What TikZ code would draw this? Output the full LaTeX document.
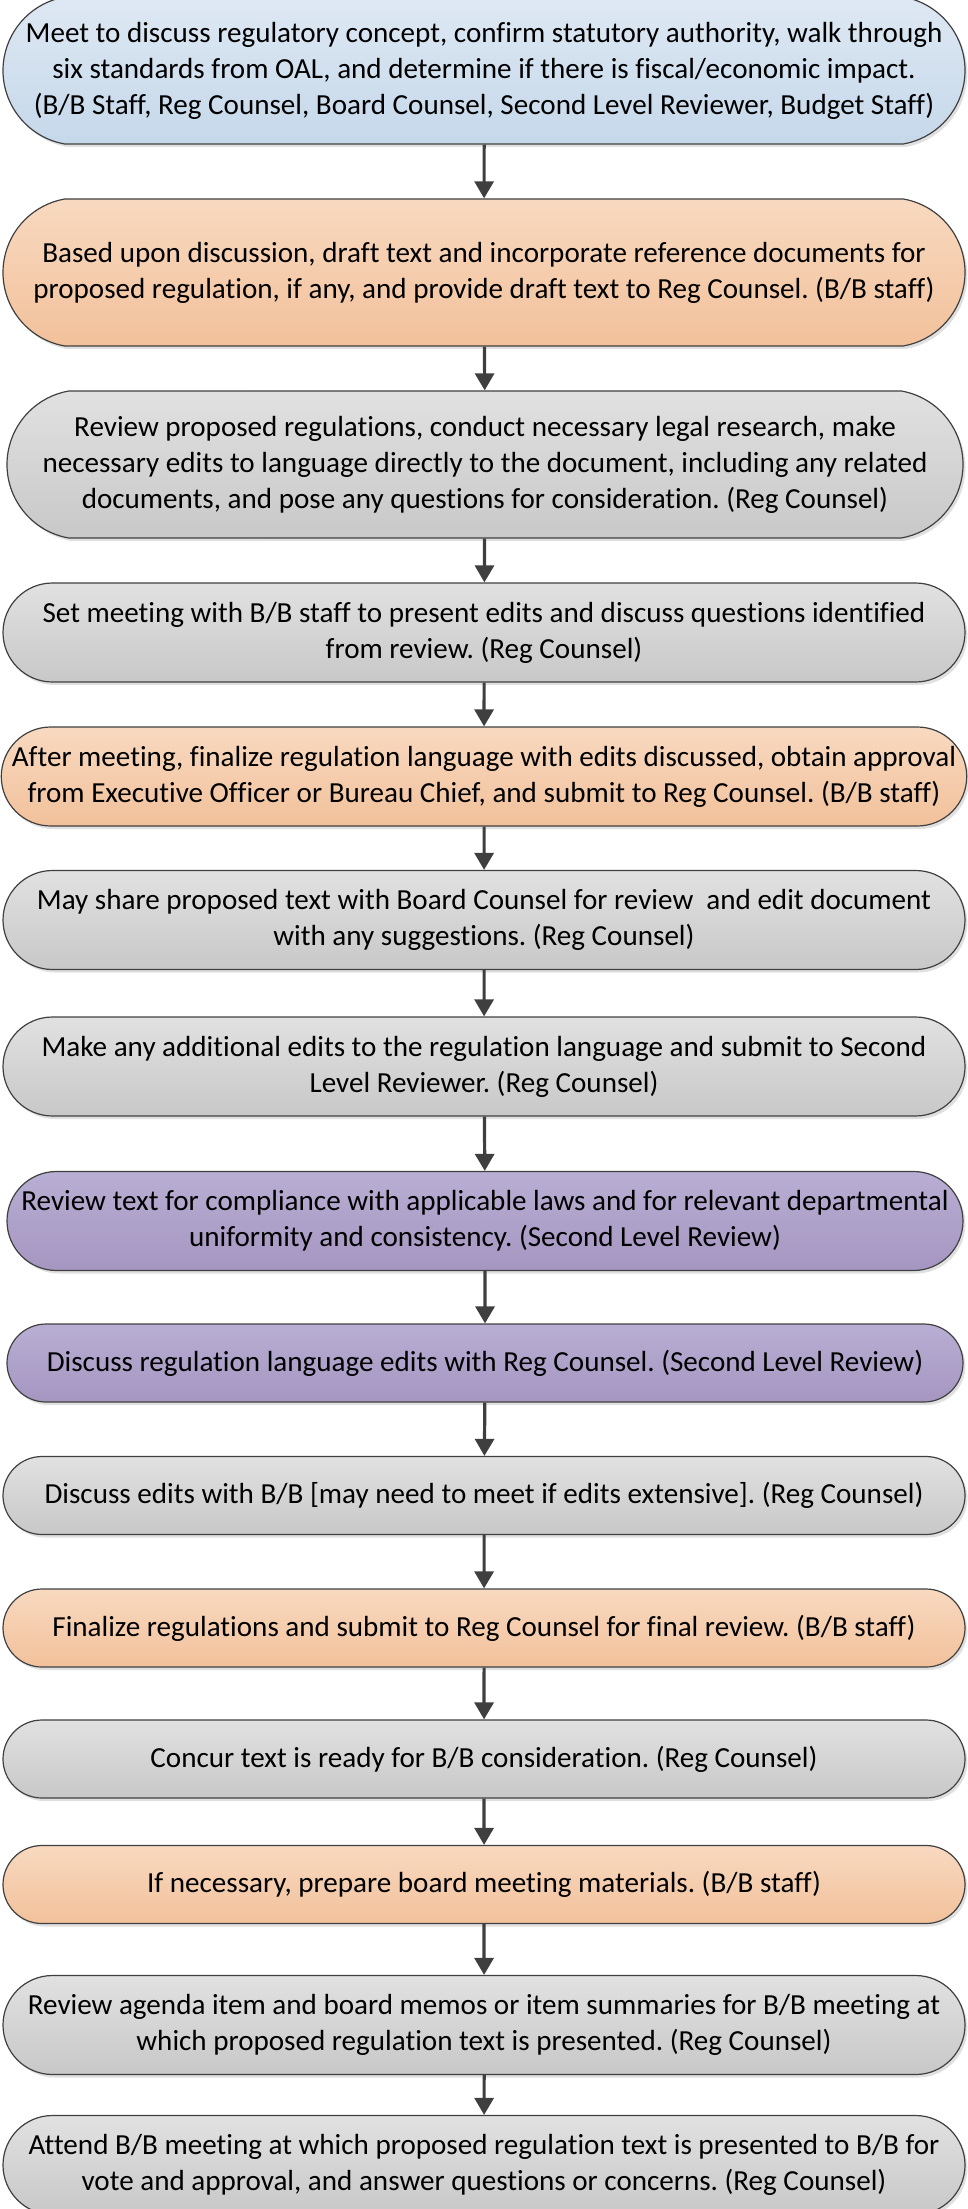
\documentclass[tikz,border=0pt]{standalone}
\usepackage{fontspec}
\setmainfont{Carlito}[Ligatures=NoCommon]
\usetikzlibrary{shapes.misc, arrows.meta, shadows}
\frenchspacing
\definecolor{edgeGray}{HTML}{404040}
\definecolor{arrowGray}{HTML}{3F3F3F}
\definecolor{blueTop}{HTML}{DEE8F3}
\definecolor{blueBot}{HTML}{C5D8EA}
\definecolor{orangeTop}{HTML}{F8D9C0}
\definecolor{orangeBot}{HTML}{F2C19B}
\definecolor{grayTop}{HTML}{E1E1E1}
\definecolor{grayBot}{HTML}{C8C8C8}
\definecolor{purpleTop}{HTML}{B9AED3}
\definecolor{purpleBot}{HTML}{A596C1}
\tikzstyle{terminal} = [rounded rectangle, minimum width=481pt, minimum height=49.5pt, inner sep=0pt, text centered, align=center, draw=edgeGray, line width=0.6pt, font=\fontsize{14.55}{18}\selectfont, drop shadow={shadow xshift=1.2pt, shadow yshift=-1.5pt, fill=black!30, opacity=0.4}]
\tikzstyle{tall} = [minimum height=73.5pt, rounded rectangle arc length=160]
\tikzstyle{flat} = [minimum height=39pt]
\tikzstyle{joint} = [top color=blueTop, bottom color=blueBot]
\tikzstyle{staff} = [top color=orangeTop, bottom color=orangeBot]
\tikzstyle{counsel} = [top color=grayTop, bottom color=grayBot]
\tikzstyle{review} = [top color=purpleTop, bottom color=purpleBot]
\tikzstyle{arrow} = [line width=1.6pt, draw=arrowGray, -{Triangle[width=9.5pt,length=8.5pt]}]

\begin{document}
\begin{tikzpicture}[x=0.5pt, y=-0.5pt]
\useasboundingbox (0,0) rectangle (968,2209);

% Nodes
\node (meetConcept) [terminal, tall, joint] at (484,70.5) {Meet to discuss regulatory concept, confirm statutory authority, walk through\\ six standards from OAL, and determine if there is fiscal/economic impact.\\ (B/B Staff, Reg Counsel, Board Counsel, Second Level Reviewer, Budget Staff)};
\node (draftText) [terminal, tall, staff] at (484,272.5) {Based upon discussion, draft text and incorporate reference documents for\\ proposed regulation, if any, and provide draft text to Reg Counsel. (B/B staff)};
\node (reviewRegs) [terminal, tall, counsel, minimum width=478pt] at (485,464.5) {Review proposed regulations, conduct necessary legal research, make\\ necessary edits to language directly to the document, including any related\\ documents, and pose any questions for consideration. (Reg Counsel)};
\node (setMeeting) [terminal, counsel] at (484,632.5) {Set meeting with B/B staff to present edits and discuss questions identified\\ from review. (Reg Counsel)};
\node (finalizeLang) [terminal, staff] at (484,776.5) {After meeting, finalize regulation language with edits discussed, obtain approval\\ from Executive Officer or Bureau Chief, and submit to Reg Counsel. (B/B staff)};
\node (shareCounsel) [terminal, counsel] at (484,920) {May share proposed text with Board Counsel for review\ \ and edit document\\ with any suggestions. (Reg Counsel)};
\node (addEdits) [terminal, counsel] at (484,1066.5) {Make any additional edits to the regulation language and submit to Second\\ Level Reviewer. (Reg Counsel)};
\node (reviewCompliance) [terminal, review, minimum width=478pt] at (485,1221) {Review text for compliance with applicable laws and for relevant departmental\\ uniformity and consistency. (Second Level Review)};
\node (discussEdits) [terminal, flat, review, minimum width=478pt] at (485,1363) {Discuss regulation language edits with Reg Counsel. (Second Level Review)};
\node (discussBB) [terminal, flat, counsel] at (484,1495.5) {Discuss edits with B/B [may need to meet if edits extensive]. (Reg Counsel)};
\node (finalizeRegs) [terminal, flat, staff] at (484,1628) {Finalize regulations and submit to Reg Counsel for final review. (B/B staff)};
\node (concurText) [terminal, flat, counsel] at (484,1759) {Concur text is ready for B/B consideration. (Reg Counsel)};
\node (prepMaterials) [terminal, flat, staff] at (484,1884.5) {If necessary, prepare board meeting materials. (B/B staff)};
\node (reviewAgenda) [terminal, counsel] at (484,2025) {Review agenda item and board memos or item summaries for B/B meeting at\\ which proposed regulation text is presented. (Reg Counsel)};
\node (attendMeeting) [terminal, counsel] at (484,2165) {Attend B/B meeting at which proposed regulation text is presented to B/B for\\ vote and approval, and answer questions or concerns. (Reg Counsel)};

% Arrows
\draw [arrow] (meetConcept) -- (draftText);
\draw [arrow] (draftText) -- (reviewRegs);
\draw [arrow] (reviewRegs) -- (setMeeting);
\draw [arrow] (setMeeting) -- (finalizeLang);
\draw [arrow] (finalizeLang) -- (shareCounsel);
\draw [arrow] (shareCounsel) -- (addEdits);
\draw [arrow] (addEdits) -- (reviewCompliance);
\draw [arrow] (reviewCompliance) -- (discussEdits);
\draw [arrow] (discussEdits) -- (discussBB);
\draw [arrow] (discussBB) -- (finalizeRegs);
\draw [arrow] (finalizeRegs) -- (concurText);
\draw [arrow] (concurText) -- (prepMaterials);
\draw [arrow] (prepMaterials) -- (reviewAgenda);
\draw [arrow] (reviewAgenda) -- (attendMeeting);

\end{tikzpicture}
\end{document}
